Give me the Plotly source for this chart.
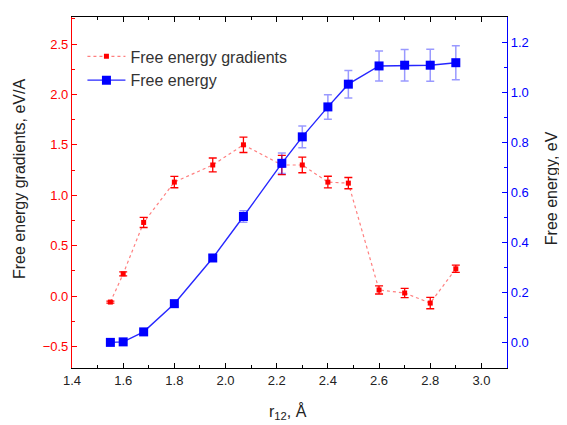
import plotly.graph_objects as go

r12 = [1.55, 1.60, 1.68, 1.80, 1.95, 2.07, 2.22, 2.30, 2.40, 2.48, 2.60, 2.70, 2.80, 2.90]
grad = [-0.06, 0.22, 0.73, 1.13, 1.30, 1.50, 1.30, 1.30, 1.13, 1.12, 0.06, 0.03, -0.07, 0.27]
grad_err = [0.01, 0.02, 0.05, 0.056, 0.069, 0.076, 0.095, 0.077, 0.058, 0.056, 0.04, 0.045, 0.056, 0.036]
energy = [0.0, 0.002, 0.042, 0.155, 0.338, 0.504, 0.717, 0.823, 0.943, 1.034, 1.107, 1.11, 1.11, 1.12]
energy_err = [0.005, 0.005, 0.008, 0.01, 0.012, 0.023, 0.041, 0.044, 0.049, 0.055, 0.06, 0.063, 0.064, 0.068]

x_title = "r<sub>12</sub>, Å"
y_title = "Free energy gradients, eV/A"
y2_title = "Free energy, eV"

FONT = "Liberation Sans, Arial, sans-serif"

fig = go.Figure()
fig.add_trace(go.Scatter(
    x=r12, y=grad, name="Free energy gradients", mode="lines+markers",
    line=dict(color="rgba(255,0,0,0.5)", width=1.2, dash="dot"),
    marker=dict(symbol="square", size=5, color="red"),
    error_y=dict(type="data", array=grad_err, color="red", thickness=1.3, width=4),
    yaxis="y"))
fig.add_trace(go.Scatter(
    x=r12, y=energy, name="Free energy", mode="lines+markers",
    line=dict(color="rgba(0,0,255,0.85)", width=1.4),
    marker=dict(symbol="square", size=9, color="blue"),
    error_y=dict(type="data", array=energy_err, color="rgba(0,0,255,0.4)", thickness=1.5, width=4),
    yaxis="y2"))

# page body adds an 8px offset, so the figure is drawn 8px smaller
fig.update_layout(
    width=559, height=417,
    margin=dict(l=64, r=60, t=9, b=57),
    paper_bgcolor="white", plot_bgcolor="white",
    font=dict(family=FONT, size=13, color="#222"),
    showlegend=True,
    legend=dict(x=0.024, y=0.936, xanchor="left", yanchor="top",
                bgcolor="rgba(0,0,0,0)", font=dict(size=16, color="#333"),
                tracegroupgap=0, itemwidth=38),
    xaxis=dict(range=[1.4, 3.1], dtick=0.2, tick0=1.4, tickformat=".1f",
               automargin=False,
               showline=True, linecolor="black", linewidth=1, mirror="ticks",
               ticks="inside", ticklen=5, tickcolor="black",
               minor=dict(ticks="inside", ticklen=3, dtick=0.1, tickcolor="black"),
               showgrid=False, zeroline=False,
               tickfont=dict(size=13, color="#222")),
    yaxis=dict(range=[-0.714, 2.768], dtick=0.5, tick0=0, tickformat=".1f",
               automargin=False,
               showline=True, linecolor="red", linewidth=1.2,
               ticks="inside", ticklen=5, tickcolor="red",
               minor=dict(ticks="inside", ticklen=3, dtick=0.25, tickcolor="red"),
               showgrid=False, zeroline=False,
               tickfont=dict(size=13, color="red")),
    yaxis2=dict(range=[-0.1026, 1.303], dtick=0.2, tick0=0, tickformat=".1f",
                automargin=False,
                overlaying="y", side="right", anchor="x",
                showline=True, linecolor="blue", linewidth=1.2,
                ticks="inside", ticklen=5, tickcolor="blue",
                minor=dict(ticks="inside", ticklen=3, dtick=0.1, tickcolor="blue"),
                showgrid=False, zeroline=False,
                tickfont=dict(size=13, color="blue")),
    annotations=[
        dict(text=x_title, xref="paper", yref="paper", x=0.4966, y=-0.125,
             xanchor="center", yanchor="middle", showarrow=False,
             font=dict(size=16, color="#222")),
        dict(text=y_title, xref="paper", yref="paper", x=-0.1195, y=0.5385,
             xanchor="center", yanchor="middle", textangle=-90, showarrow=False,
             font=dict(size=16, color="#222")),
        dict(text=y2_title, xref="paper", yref="paper", x=1.104, y=0.513,
             xanchor="center", yanchor="middle", textangle=-90, showarrow=False,
             font=dict(size=16, color="#222")),
    ],
)

fig.write_html("out.html")
